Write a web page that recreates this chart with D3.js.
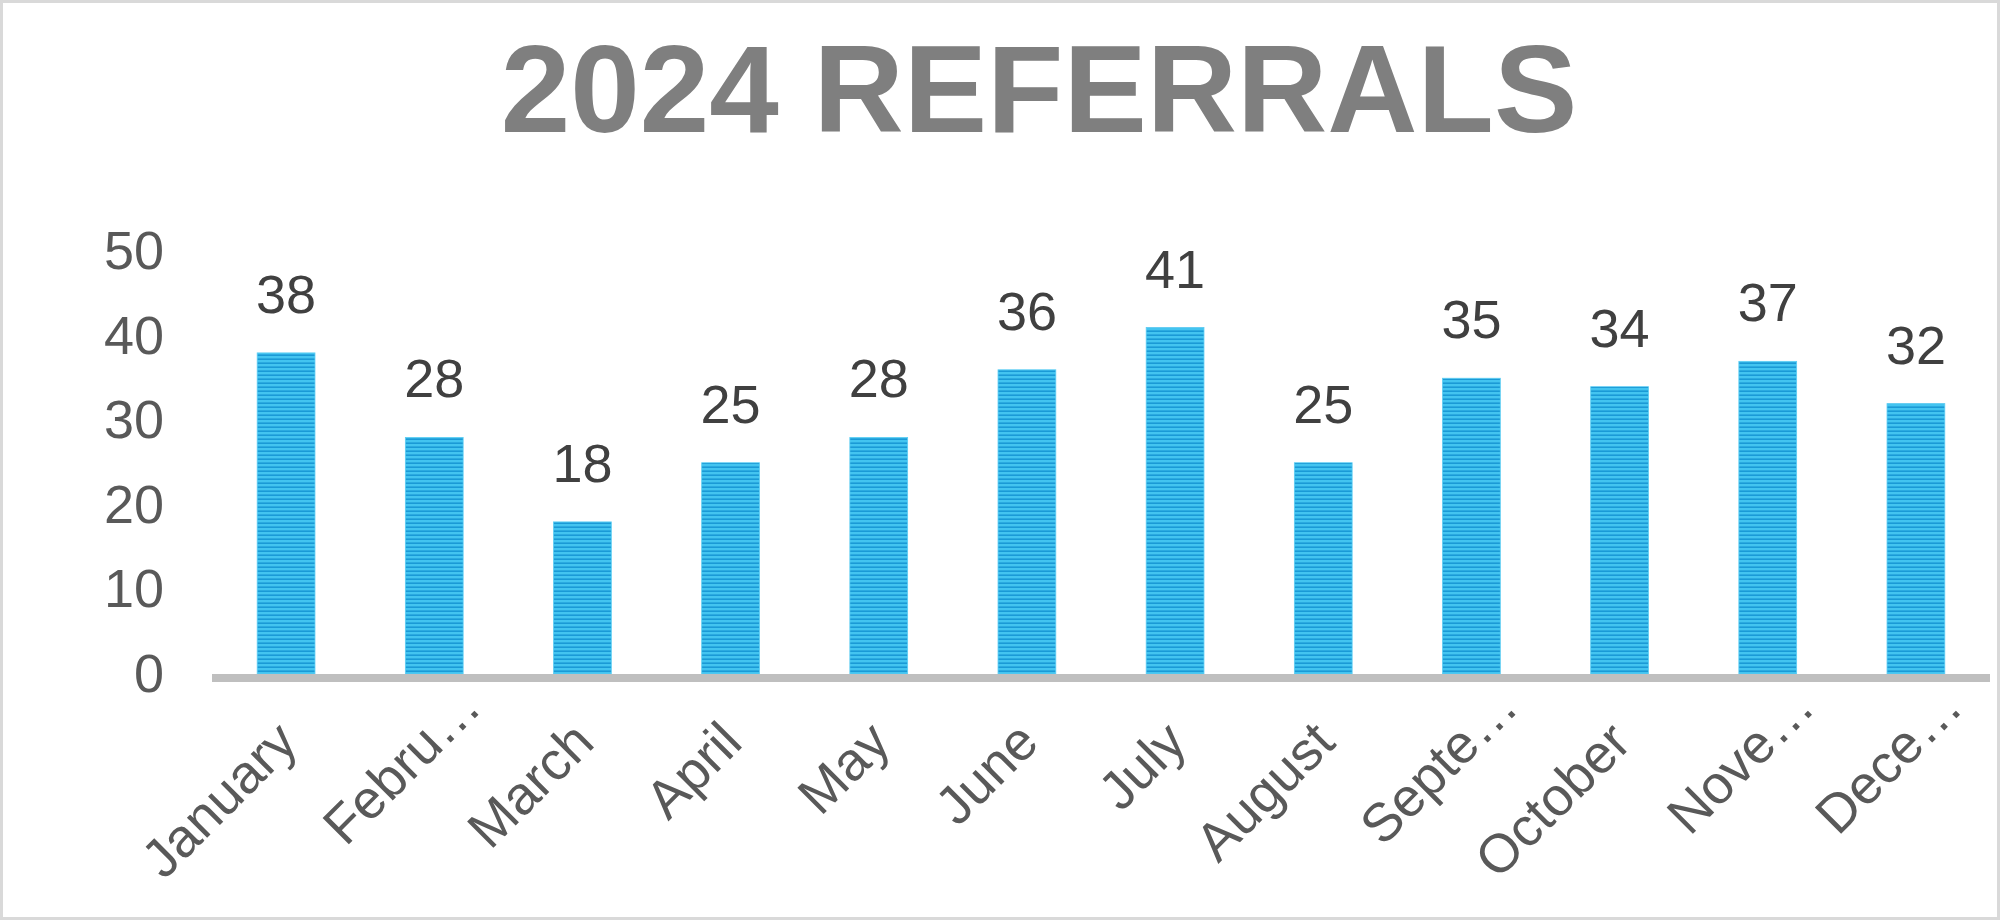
<!DOCTYPE html>
<html>
<head>
<meta charset="utf-8">
<script src="https://cdn.jsdelivr.net/npm/d3@7"></script>
<style>
  html, body { margin: 0; padding: 0; background: #fff; }
  svg { display: block; font-family: "Liberation Sans", Arial, sans-serif; }
</style>
</head>
<body>
<div id="chart"></div>
<script>
var months = ['January', 'Febru\u2026', 'March', 'April', 'May', 'June', 'July',
  'August', 'Septe\u2026', 'October', 'Nove\u2026', 'Dece\u2026']
var referrals = [38, 28, 18, 25, 28, 36, 41, 25, 35, 34, 37, 32]
var yTicks = [0, 10, 20, 30, 40, 50]
var title = '2024 REFERRALS'

var w = 2000, h = 920
var plotLeft = 212, plotRight = 1990, plotBase = 674, plotTop = 251.5

var data = months.map((m, i) => ({month: m, val: referrals[i]}))

var svg = d3.select('#chart')
  .append('svg')
  .attr('width', w)
  .attr('height', h)

// striped fill like the excel texture
var pat = svg.append('defs').append('pattern')
  .attr('id', 'stripes')
  .attr('patternUnits', 'userSpaceOnUse')
  .attr('width', 10)
  .attr('height', 4)
pat.append('rect').attr('width', 10).attr('height', 4).attr('fill', '#43c4f0')
pat.append('rect').attr('y', 2.4).attr('width', 10).attr('height', 1.6).attr('fill', '#1a9ad6')

// outer frame
svg.append('rect')
  .attr('x', 1.5).attr('y', 1.5)
  .attr('width', w - 3).attr('height', h - 3)
  .attr('fill', 'none')
  .attr('stroke', '#d9d9d9')
  .attr('stroke-width', 3)

svg.append('text')
  .attr('x', 1039)
  .attr('y', 132)
  .attr('text-anchor', 'middle')
  .style('font-size', '125px')
  .style('font-weight', 'bold')
  .style('fill', '#7f7f7f')
  .text(title)

var x = d3.scaleBand()
  .domain(months)
  .range([plotLeft, plotRight])
  .paddingInner(0.61)
  .paddingOuter(0.305)

var y = d3.scaleLinear()
  .domain([0, 50])
  .range([plotBase, plotTop])

var yAxis = svg.append('g')
  .attr('transform', 'translate(' + plotLeft + ',0)')
  .call(d3.axisLeft(y).tickValues(yTicks).tickSize(0).tickPadding(48))
yAxis.select('.domain').remove()
yAxis.selectAll('text')
  .style('font-size', '54px')
  .style('font-family', '"Liberation Sans", Arial, sans-serif')
  .style('fill', '#595959')

svg.append('g').selectAll('.bar')
  .data(data)
  .enter()
  .append('rect')
  .attr('class', 'bar')
  .attr('x', d => x(d.month))
  .attr('y', d => y(d.val))
  .attr('width', x.bandwidth())
  .attr('height', d => y(0) - y(d.val))
  .attr('fill', 'url(#stripes)')
  .attr('stroke', '#5ccdf3')
  .attr('stroke-width', 0.8)

svg.append('g').selectAll('.lbl')
  .data(data)
  .enter()
  .append('text')
  .attr('class', 'lbl')
  .attr('x', d => x(d.month) + x.bandwidth() / 2)
  .attr('y', d => y(d.val) - 40)
  .attr('text-anchor', 'middle')
  .style('font-size', '54px')
  .style('fill', '#404040')
  .text(d => d.val)

// category axis, line drawn on its own
svg.append('line')
  .attr('x1', plotLeft).attr('x2', plotRight)
  .attr('y1', plotBase + 4).attr('y2', plotBase + 4)
  .attr('stroke', '#bfbfbf')
  .attr('stroke-width', 8)

var xAxis = svg.append('g')
  .attr('transform', 'translate(0,' + plotBase + ')')
  .call(d3.axisBottom(x).tickSize(0))
xAxis.select('.domain').remove()
xAxis.selectAll('text')
  .attr('x', 0).attr('y', 0).attr('dy', 0)
  .attr('dx', d => d.endsWith('\u2026') ? 50 : 0)
  .attr('transform', 'translate(14,71) rotate(-45)')
  .attr('text-anchor', 'end')
  .style('font-size', '54px')
  .style('font-family', '"Liberation Sans", Arial, sans-serif')
  .style('fill', '#595959')
</script>
</body>
</html>
